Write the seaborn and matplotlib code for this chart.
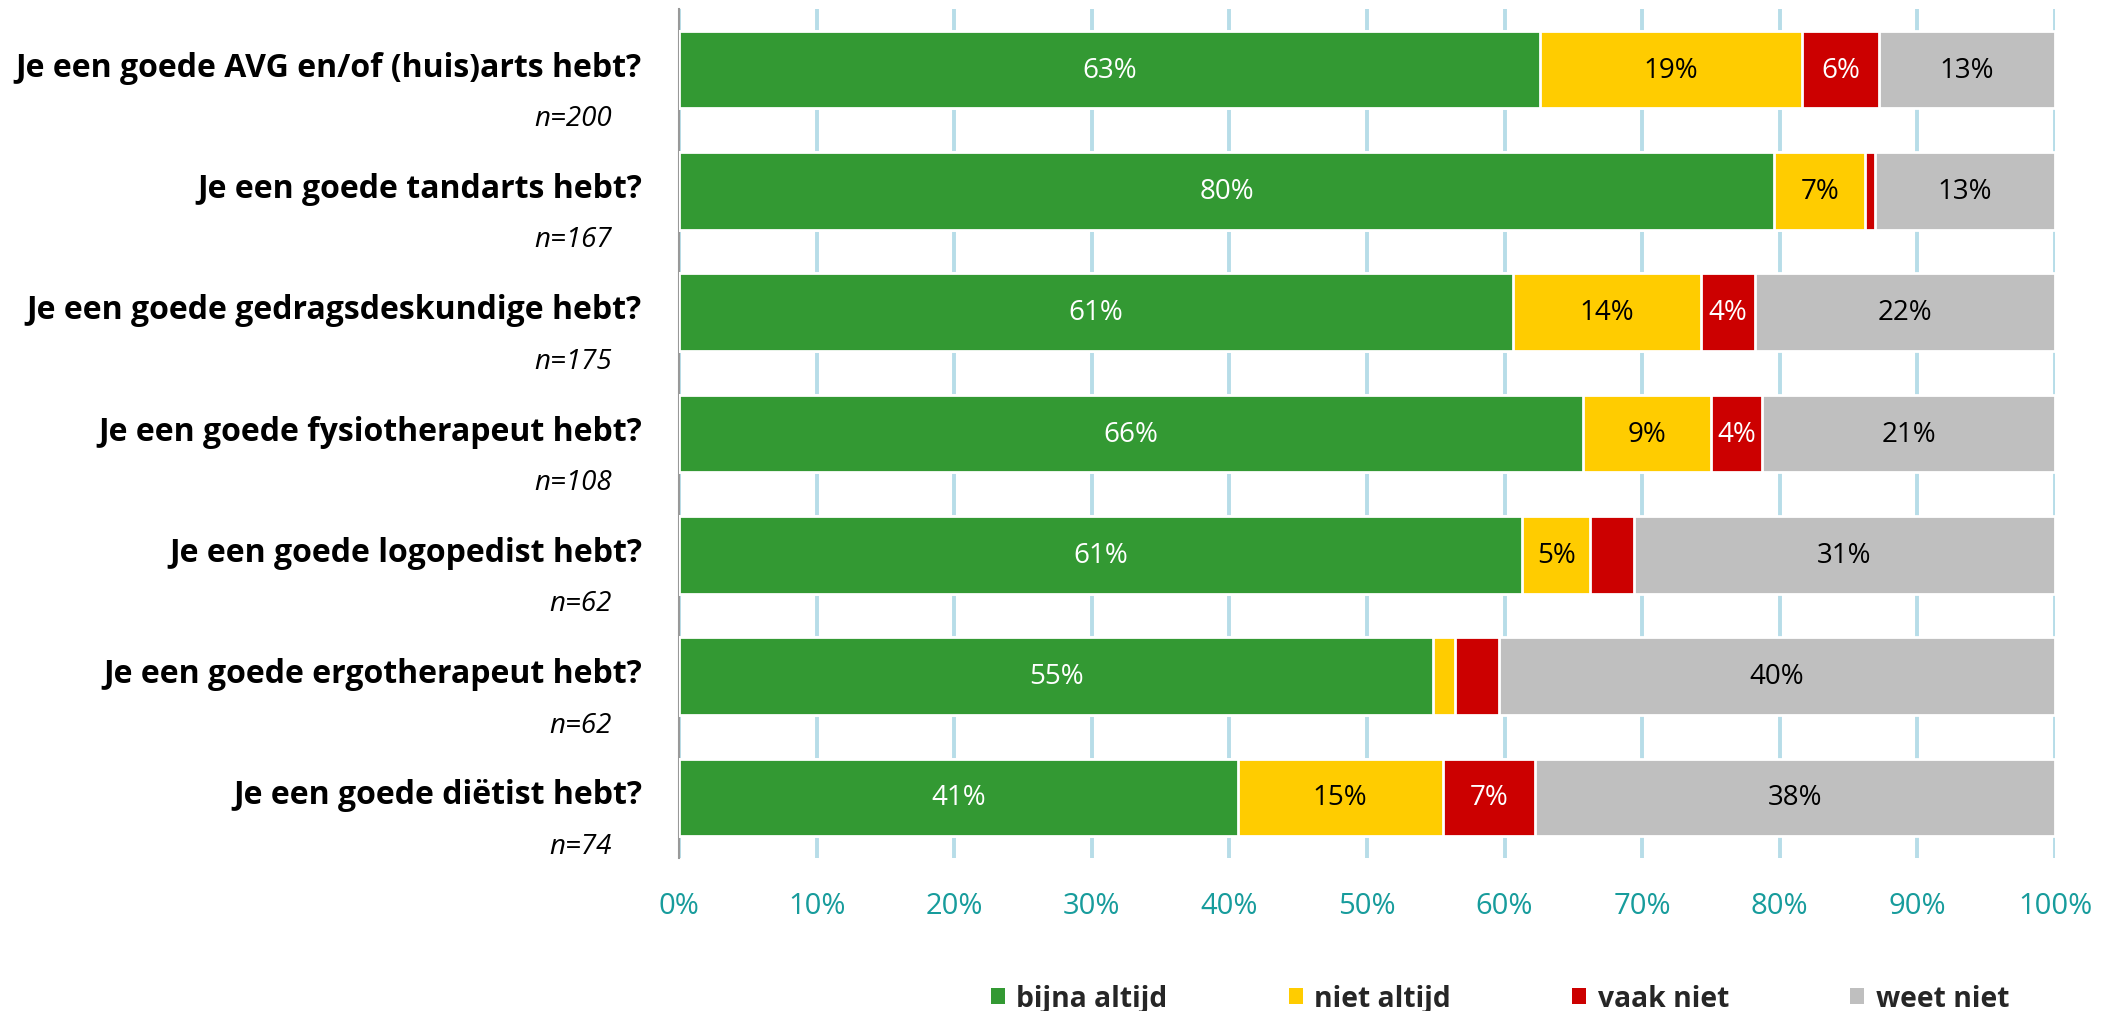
import numpy as np
import pandas as pd
import matplotlib
matplotlib.use("Agg")
import matplotlib.pyplot as plt
from matplotlib.patches import Patch
import seaborn as sns

# Data.
questions = [
    "Je een goede AVG en/of (huis)arts hebt?",
    "Je een goede tandarts hebt?",
    "Je een goede gedragsdeskundige hebt?",
    "Je een goede fysiotherapeut hebt?",
    "Je een goede logopedist hebt?",
    "Je een goede ergotherapeut hebt?",
    "Je een goede diëtist hebt?",
]
n_labels = ["n=200", "n=167", "n=175", "n=108", "n=62", "n=62", "n=74"]
answers = ["bijna altijd", "niet altijd", "vaak niet", "weet niet"]
bijna_altijd = [62.6, 79.6, 60.6, 65.7, 61.3, 54.8, 40.6]
niet_altijd = [19.0, 6.6, 13.7, 9.3, 4.9, 1.6, 14.9]
vaak_niet = [5.6, 0.7, 3.9, 3.7, 3.2, 3.2, 6.7]
weet_niet = [12.8, 13.1, 21.8, 21.3, 30.6, 40.4, 37.8]
xticks = list(range(0, 101, 10))

colors = ["#339933", "#ffcc00", "#cc0000", "#bfbfbf"]
text_colors = ["white", "black", "white", "black"]

sns.set_style("white")
plt.rcParams["font.family"] = ["Open Sans", "DejaVu Sans"]

series = [bijna_altijd, niet_altijd, vaak_niet, weet_niet]
cum = np.cumsum(np.array(series), axis=0)

fig = plt.figure(figsize=(21.01, 10.12), dpi=100)
ax = fig.add_axes([0.3232, 0.1512, 0.6549, 0.8389])

# Stacked bars: draw cumulative totals from the widest down.
for i in reversed(range(len(answers))):
    df = pd.DataFrame({"question": questions, "value": cum[i]})
    sns.barplot(data=df, x="value", y="question", orient="h", color=colors[i],
                saturation=1, width=0.64, edgecolor="white", linewidth=2,
                ax=ax, zorder=3)

# Segment labels.
for i, vals in enumerate(series):
    for j, v in enumerate(vals):
        if v < 3.5:
            continue
        left = cum[i][j] - v
        ax.text(left + v / 2, j, f"{round(v)}%", ha="center", va="center",
                fontsize=20, color=text_colors[i], zorder=4)

ax.set_xlim(0, 100)
ax.set_ylim(len(questions) - 0.5, -0.5)
ax.set_xlabel("")
ax.set_ylabel("")

ax.set_xticks(xticks)
ax.set_xticklabels([f"{v}%" for v in xticks], fontsize=21, color="#179c9c")
ax.tick_params(axis="x", length=0, pad=24)

ax.set_yticks(np.arange(-0.5, len(questions), 1))
ax.set_yticklabels([])
ax.tick_params(axis="y", length=9, width=1.5, color="#999999", direction="out")

ax.set_axisbelow(True)
ax.xaxis.grid(True, color="#b7dde8", linewidth=2.8)
ax.yaxis.grid(False)

for side in ["top", "right", "bottom"]:
    ax.spines[side].set_visible(False)
ax.spines["left"].set_color("#999999")
ax.spines["left"].set_linewidth(1.5)

# Category labels with sample sizes.
trans = ax.get_yaxis_transform()
for j, (q, n) in enumerate(zip(questions, n_labels)):
    ax.text(-0.027, j - 0.02, q, transform=trans, ha="right", va="center",
            fontsize=23, fontweight="bold", color="black")
    ax.text(-0.049, j + 0.4, n, transform=trans, ha="right", va="center",
            fontsize=20, style="italic", color="black")

handles = [Patch(facecolor=c, edgecolor="none") for c in colors]
leg = fig.legend(handles, answers, loc="center", bbox_to_anchor=(0.714, 0.012),
                 ncol=4, frameon=False, handlelength=0.5, handleheight=0.5,
                 handletextpad=0.4, columnspacing=4.3,
                 prop={"size": 20.3, "weight": "bold"})

fig.savefig("out.png", dpi=100)
